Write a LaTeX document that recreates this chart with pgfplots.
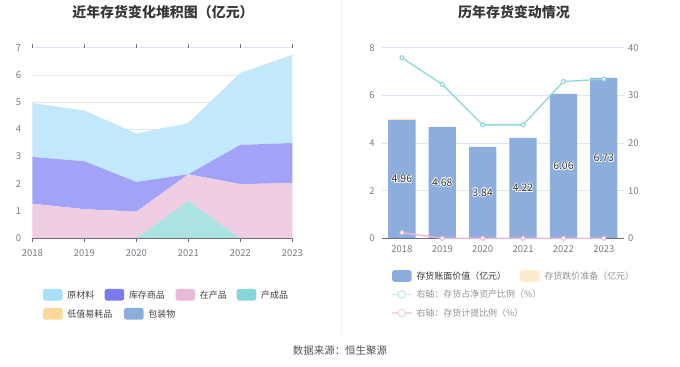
\documentclass[border=0pt]{standalone}
\usepackage{pgfplots}
\pgfplotsset{compat=1.18}
\usepackage{fontspec}
\setmainfont{Noto Sans CJK SC}
\definecolor{gridc}{HTML}{E0E6F1}
\definecolor{axisc}{HTML}{6E7079}
\definecolor{tickc}{HTML}{7A7C84}
\definecolor{cYcl}{HTML}{C2E8FB}
\definecolor{cKc}{HTML}{A2A2F7}
\definecolor{cZc}{HTML}{EFCDE3}
\definecolor{cCc}{HTML}{AAE3E2}
\definecolor{lgYcl}{HTML}{A8DFFB}
\definecolor{lgKc}{HTML}{7B7BF0}
\definecolor{lgZc}{HTML}{E8B9D9}
\definecolor{lgCc}{HTML}{86D7D7}
\definecolor{lgDz}{HTML}{FED89B}
\definecolor{lgBz}{HTML}{8BADDC}
\definecolor{barc}{HTML}{8DAEDC}
\definecolor{diec}{HTML}{FBE2B6}
\definecolor{tealc}{HTML}{8ED8DC}
\definecolor{pinkc}{HTML}{EDB5D6}
\newcommand{\halo}[1]{{\color{white}%
\rlap{\hspace{0.8pt}#1}\rlap{\hspace{-0.8pt}#1}\rlap{\raisebox{0.8pt}{#1}}\rlap{\raisebox{-0.8pt}{#1}}%
\rlap{\hspace{0.6pt}\raisebox{0.6pt}{#1}}\rlap{\hspace{-0.6pt}\raisebox{0.6pt}{#1}}%
\rlap{\hspace{0.6pt}\raisebox{-0.6pt}{#1}}\rlap{\hspace{-0.6pt}\raisebox{-0.6pt}{#1}}}%
{\color[HTML]{333333}#1}}
\pgfplotsset{
  base/.style={
    scale only axis, anchor=south west,
    /pgf/number format/assume math mode=true,
    tick label style={font=\fontsize{9.5}{10}\selectfont, text=tickc},
    yticklabel style={inner sep=0pt, xshift=-7bp},
    xticklabel style={inner sep=0pt, anchor=center, yshift=-10.5bp},
    axis line style={draw=none},
    ytick style={draw=none},
    grid style={gridc, line width=0.8bp},
    ymajorgrids,
  }
}
\begin{document}
\begin{tikzpicture}
\path[use as bounding box, fill=white] (0,0) rectangle (680bp,367bp);
% titles
\node[font=\fontsize{14}{16}\selectfont\bfseries, text=black!78] at (163bp,355.3bp) {近年存货变化堆积图（亿元）};
\node[font=\fontsize{14}{16}\selectfont\bfseries, text=black!78] at (514bp,355.3bp) {历年存货变动情况};
% divider
\draw[black!6, line width=0.8bp] (341.5bp,367bp) -- (341.5bp,34bp);
% ---------- left chart ----------
\begin{axis}[base,
  at={(32.3bp,128.7bp)}, width=260bp, height=190.6bp,
  xmin=2018, xmax=2023, ymin=0, ymax=7,
  xtick={2018,2019,2020,2021,2022,2023}, ytick={0,1,...,7},
  x tick label style={/pgf/number format/1000 sep={}},
  xtick style={draw=axisc, line width=0.8bp},
  tick align=outside, major tick length=4bp,
  stack plots=y,
  after end axis/.code={\draw[axisc, line width=0.9bp] (rel axis cs:0,0) -- (rel axis cs:1,0);},
]
\addplot[draw=none, fill=cCc] coordinates {(2018,0) (2019,0) (2020,0) (2021,1.37) (2022,0) (2023,0)} \closedcycle;
\addplot[draw=none, fill=cZc] coordinates {(2018,1.27) (2019,1.07) (2020,0.98) (2021,0.98) (2022,1.99) (2023,2.03)} \closedcycle;
\addplot[draw=none, fill=cKc] coordinates {(2018,1.72) (2019,1.76) (2020,1.09) (2021,0.00) (2022,1.44) (2023,1.47)} \closedcycle;
\addplot[draw=none, fill=cYcl] coordinates {(2018,1.97) (2019,1.85) (2020,1.77) (2021,1.87) (2022,2.63) (2023,3.23)} \closedcycle;
\addplot[draw=none, fill=lgDz] coordinates {(2018,0) (2019,0) (2020,0) (2021,0) (2022,0) (2023,0)} \closedcycle;
\addplot[draw=none, fill=lgBz] coordinates {(2018,0) (2019,0) (2020,0) (2021,0) (2022,0) (2023,0)} \closedcycle;
\end{axis}
% ---------- right chart: bars ----------
\begin{axis}[base,
  at={(381.7bp,128.7bp)}, width=242.3bp, height=190.6bp,
  xmin=-0.5, xmax=5.5, ymin=0, ymax=8,
  xtick={0,...,5}, xticklabels={2018,2019,2020,2021,2022,2023},
  ytick={0,2,4,6,8}, xtick style={draw=none},
  ybar stacked, bar width=27.3bp,
  after end axis/.code={\draw[axisc, line width=0.9bp] (rel axis cs:0,0) -- (rel axis cs:1,0);},
]
\addplot[fill=barc, draw=none] coordinates {(0,4.96) (1,4.68) (2,3.84) (3,4.22) (4,6.06) (5,6.73)};
\addplot[fill=diec, draw=none] coordinates {(0,0.06) (1,0) (2,0) (3,0) (4,0) (5,0)};
\end{axis}
% labels in bars
\begin{axis}[scale only axis, anchor=south west, hide axis,
  at={(381.7bp,128.7bp)}, width=242.3bp, height=190.6bp,
  xmin=-0.5, xmax=5.5, ymin=0, ymax=8]
\addplot[draw=none, mark=none, point meta=explicit symbolic,
  nodes near coords={\halo{\pgfplotspointmeta}},
  every node near coord/.style={anchor=center, inner sep=0pt, font=\fontsize{10.5}{11}\selectfont}]
  coordinates {(0,2.48)[4.96] (1,2.34)[4.68] (2,1.92)[3.84] (3,2.11)[4.22] (4,3.03)[6.06] (5,3.365)[6.73]};
\end{axis}
% ---------- right chart: lines (right axis) ----------
\begin{axis}[scale only axis, anchor=south west,
  at={(381.7bp,128.7bp)}, width=242.3bp, height=190.6bp,
  xmin=-0.5, xmax=5.5, ymin=0, ymax=40, clip=false,
  axis x line=none, axis y line*=right,
  axis line style={draw=none}, ytick style={draw=none},
  ytick={0,10,20,30,40},
  /pgf/number format/assume math mode=true,
  tick label style={font=\fontsize{9.5}{10}\selectfont, text=tickc},
  yticklabel style={inner sep=0pt, anchor=west, xshift=4bp},
]
\addplot[tealc, line width=1.3bp, mark=*, mark size=2bp, mark options={fill=white, draw=tealc, line width=1.1bp}]
  coordinates {(0,37.9) (1,32.3) (2,23.8) (3,23.8) (4,32.9) (5,33.4)};
\addplot[pinkc, line width=1.3bp, mark=*, mark size=2bp, mark options={fill=white, draw=pinkc, line width=1.1bp}]
  coordinates {(0,1.2) (1,0) (2,0) (3,0) (4,0) (5,0)};
\end{axis}
% ---------- left legend ----------
\begin{scope}[font=\fontsize{9}{10}\selectfont, text=black!75]
\foreach \x/\c/\t in {43/lgYcl/原材料, 104.6/lgKc/库存商品, 175.5/lgZc/在产品, 236.7/lgCc/产成品}{
  \fill[\c, rounded corners=2.5bp] (\x bp,66.4bp) rectangle ++(19.6bp,11.7bp);
  \node[anchor=west, inner sep=0pt] at ({\x bp+24.2bp},72.2bp) {\t};
}
\foreach \x/\c/\t in {43/lgDz/低值易耗品, 124/lgBz/包装物}{
  \fill[\c, rounded corners=2.5bp] (\x bp,47.4bp) rectangle ++(19.6bp,11.7bp);
  \node[anchor=west, inner sep=0pt] at ({\x bp+24.2bp},53.2bp) {\t};
}
\end{scope}
% ---------- right legend ----------
\begin{scope}[font=\fontsize{9}{10}\selectfont]
\fill[barc, rounded corners=2.5bp] (392bp,85.2bp) rectangle ++(19.6bp,11.7bp);
\node[anchor=west, inner sep=0pt, text=black!78] at (416.3bp,91bp) {存货账面价值（亿元）};
\fill[diec!70!white, rounded corners=2.5bp] (520bp,85.2bp) rectangle ++(19.6bp,11.7bp);
\node[anchor=west, inner sep=0pt, text=black!42] at (544.3bp,91bp) {存货跌价准备（亿元）};
\draw[tealc!55!white, line width=1.2bp] (392bp,72.7bp) -- (411.6bp,72.7bp);
\draw[tealc!55!white, fill=white, line width=1.2bp] (401.8bp,72.7bp) circle (3.8bp);
\node[anchor=west, inner sep=0pt, text=black!42] at (416.3bp,72.7bp) {右轴：存货占净资产比例（\%）};
\draw[pinkc!55!white, line width=1.2bp] (392bp,54bp) -- (411.6bp,54bp);
\draw[pinkc!55!white, fill=white, line width=1.2bp] (401.8bp,54bp) circle (3.8bp);
\node[anchor=west, inner sep=0pt, text=black!42] at (416.3bp,54bp) {右轴：存货计提比例（\%）};
\end{scope}
% source
\node[font=\fontsize{10.5}{12}\selectfont, text=black!68] at (340bp,16bp) {数据来源：恒生聚源};
\end{tikzpicture}
\end{document}
